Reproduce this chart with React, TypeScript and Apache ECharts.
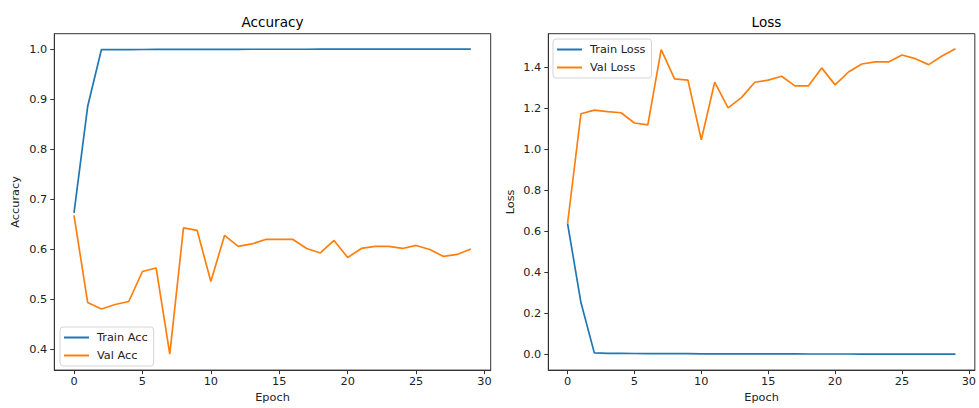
import React, { useEffect, useRef } from "react";
import * as echarts from "echarts";

const epochs = Array.from({ length: 30 }, (_, i) => i);

const trainAcc = [
  0.673, 0.886, 0.999, 0.9992, 0.9993, 0.9994, 0.9995, 0.9996, 0.9996, 0.9997,
  0.9998, 0.9998, 0.9998, 0.9999, 0.9999, 0.9999, 0.9999, 0.9999, 1.0, 1.0,
  1.0, 1.0, 1.0, 1.0, 1.0, 1.0, 1.0, 1.0, 1.0, 1.0,
];
const valAcc = [
  0.668, 0.494, 0.481, 0.49, 0.496, 0.556, 0.563, 0.391, 0.643, 0.638,
  0.536, 0.628, 0.606, 0.611, 0.62, 0.62, 0.62, 0.602, 0.593, 0.618,
  0.584, 0.602, 0.606, 0.606, 0.602, 0.608, 0.6, 0.586, 0.59, 0.601,
];
const trainLoss = [
  0.638, 0.252, 0.006, 0.004, 0.0035, 0.003, 0.0028, 0.0025, 0.002, 0.002,
  0.0015, 0.0013, 0.0012, 0.0011, 0.001, 0.0009, 0.0008, 0.0008, 0.0007, 0.0007,
  0.0006, 0.0006, 0.0005, 0.0005, 0.0005, 0.0004, 0.0004, 0.0004, 0.0003, 0.0003,
];
const valLoss = [
  0.638, 1.174, 1.192, 1.184, 1.179, 1.129, 1.12, 1.487, 1.344, 1.338,
  1.047, 1.328, 1.203, 1.253, 1.328, 1.338, 1.357, 1.31, 1.31, 1.398,
  1.315, 1.378, 1.417, 1.427, 1.427, 1.461, 1.443, 1.414, 1.456, 1.492,
];

const xTicks = [0, 5, 10, 15, 20, 25, 30];
const accTicks = [0.4, 0.5, 0.6, 0.7, 0.8, 0.9, 1.0];
const lossTicks = [0.0, 0.2, 0.4, 0.6, 0.8, 1.0, 1.2, 1.4];

const BLUE = "#1f77b4";
const ORANGE = "#ff7f0e";
const FONT = "DejaVu Sans";
const TXT = "#222";
const SPINE = "#333";

export default function App() {
  const ref = useRef<HTMLDivElement>(null);
  useEffect(() => {
    if (!ref.current) return;
    const chart = echarts.init(ref.current, null, { renderer: "svg" });

    const xAxisBase = (gridIndex: number) => ({
      type: "value",
      gridIndex,
      min: -1.44,
      max: 30.45,
      name: "Epoch",
      nameLocation: "middle",
      nameGap: 21,
      nameTextStyle: { fontFamily: FONT, fontSize: 11.3, color: TXT },
      axisLine: { show: true, onZero: false, lineStyle: { color: SPINE, width: 1 } },
      axisTick: {
        show: true,
        length: 4,
        customValues: xTicks,
        lineStyle: { color: SPINE, width: 1 },
      },
      axisLabel: {
        customValues: xTicks,
        margin: 6,
        fontFamily: FONT,
        fontSize: 11.3,
        color: TXT,
        formatter: (v: number) => String(v),
      },
      splitLine: { show: false },
    });

    const yAxisBase = (
      gridIndex: number,
      name: string,
      min: number,
      max: number,
      ticks: number[],
      gap: number
    ) => ({
      type: "value",
      gridIndex,
      min,
      max,
      name,
      nameLocation: "middle",
      nameGap: gap,
      nameTextStyle: { fontFamily: FONT, fontSize: 11.3, color: TXT },
      axisLine: { show: true, onZero: false, lineStyle: { color: SPINE, width: 1 } },
      axisTick: {
        show: true,
        length: 4,
        customValues: ticks,
        lineStyle: { color: SPINE, width: 1 },
      },
      axisLabel: {
        customValues: ticks,
        margin: 7,
        fontFamily: FONT,
        fontSize: 11.3,
        color: TXT,
        formatter: (v: number) => v.toFixed(1),
      },
      splitLine: { show: false },
    });

    const legendBase = {
      orient: "vertical",
      icon: "rect",
      itemWidth: 25,
      itemHeight: 2,
      itemGap: 5,
      padding: [4, 6, 4, 4],
      backgroundColor: "rgba(255,255,255,0.8)",
      borderColor: "#d4d4d4",
      borderWidth: 1,
      borderRadius: 3,
      selectedMode: false,
      textStyle: {
        fontFamily: FONT,
        fontSize: 11.3,
        color: TXT,
        lineHeight: 13,
        padding: [0, 0, 0, 3],
      },
    };

    const line = (
      name: string,
      data: number[],
      color: string,
      xi: number
    ) => ({
      type: "line",
      name,
      xAxisIndex: xi,
      yAxisIndex: xi,
      data: epochs.map((e, i) => [e, data[i]]),
      symbol: "none",
      lineStyle: { color, width: 1.7 },
      itemStyle: { color },
    });

    chart.setOption({
      animation: false,
      backgroundColor: "#fff",
      title: [
        {
          text: "Accuracy",
          left: 272.5,
          top: 15,
          textAlign: "center",
          padding: 0,
          textStyle: {
            fontFamily: FONT,
            fontSize: 13.6,
            fontWeight: "normal",
            color: "#000",
          },
        },
        {
          text: "Loss",
          left: 766.5,
          top: 15,
          textAlign: "center",
          padding: 0,
          textStyle: {
            fontFamily: FONT,
            fontSize: 13.6,
            fontWeight: "normal",
            color: "#000",
          },
        },
      ],
      grid: [
        {
          left: 54.3,
          top: 33.7,
          width: 436.4,
          height: 337.3,
          show: true,
          borderColor: SPINE,
          borderWidth: 1,
          backgroundColor: "transparent",
        },
        {
          left: 548.3,
          top: 33.7,
          width: 436.4,
          height: 337.3,
          show: true,
          borderColor: SPINE,
          borderWidth: 1,
          backgroundColor: "transparent",
        },
      ],
      xAxis: [xAxisBase(0), xAxisBase(1)],
      yAxis: [
        yAxisBase(0, "Accuracy", 0.359, 1.031, accTicks, 33),
        yAxisBase(1, "Loss", -0.078, 1.565, lossTicks, 32),
      ],
      legend: [
        { ...legendBase, left: 60, top: 327, data: ["Train Acc", "Val Acc"] },
        { ...legendBase, left: 553, top: 39, data: ["Train Loss", "Val Loss"] },
      ],
      series: [
        line("Train Acc", trainAcc, BLUE, 0),
        line("Val Acc", valAcc, ORANGE, 0),
        line("Train Loss", trainLoss, BLUE, 1),
        line("Val Loss", valLoss, ORANGE, 1),
      ],
    });
    return () => chart.dispose();
  }, []);

  return (
    <div
      ref={ref}
      style={{
        position: "absolute",
        left: 0,
        top: 0,
        width: 979,
        height: 408,
        background: "#fff",
      }}
    />
  );
}
